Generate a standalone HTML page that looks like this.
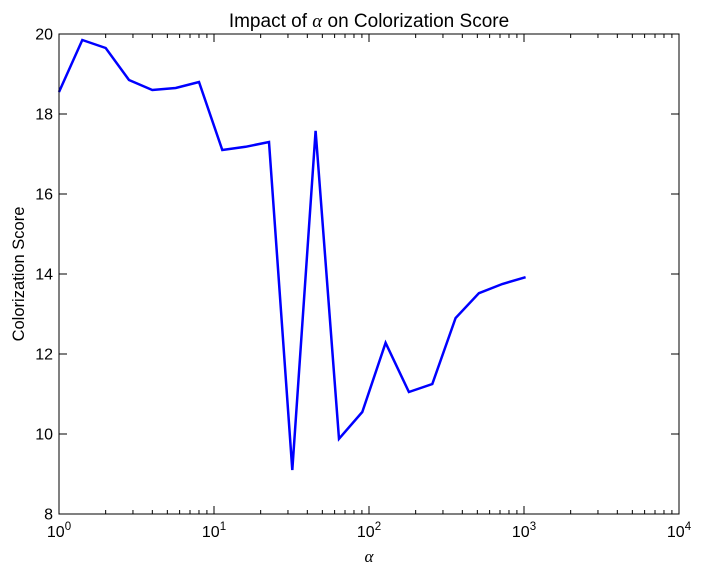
<!DOCTYPE html>
<html><head><meta charset="utf-8"><style>
body{margin:0;background:#fff;}
svg{display:block;font-family:"Liberation Sans",sans-serif;}
</style></head><body>
<svg id="chart" width="704" height="576" xmlns="http://www.w3.org/2000/svg">
<rect x="0" y="0" width="704" height="576" fill="#fff"/>
<g id="grid"></g>
<text x="369" y="27" font-size="19" text-anchor="middle">Impact of <tspan font-family="Liberation Serif" font-style="italic">α</tspan> on Colorization Score</text>
<text x="369" y="562" font-size="17" text-anchor="middle" font-family="Liberation Serif" font-style="italic">α</text>
<text x="24" y="274" font-size="16.5" text-anchor="middle" transform="rotate(-90 24 274)">Colorization Score</text>
</svg>
<script>
const alphas=[1,1.414,2,2.828,4,5.657,8,11.31,16,22.63,32,45.25,64,90.51,128,181,256,362,512,724,1024];
const scores=[18.55,19.85,19.65,18.85,18.6,18.65,18.8,17.1,17.18,17.3,9.1,17.58,9.88,10.55,12.28,11.05,11.25,12.9,13.52,13.75,13.92];
const yTicks=[8,10,12,14,16,18,20];
const xDecades=[0,1,2,3,4];
const L=59,R=679,T=34,B=514;
const NS="http://www.w3.org/2000/svg";
const xs=v=>L+(Math.log10(v)-0)/4*(R-L);
const ys=v=>B-(v-8)/12*(B-T);
const svg=document.getElementById('chart');
const g=document.getElementById('grid');
function mk(tag,at,parent){const e=document.createElementNS(NS,tag);for(const k in at)e.setAttribute(k,at[k]);(parent||g).appendChild(e);return e;}
yTicks.forEach(t=>{const y=ys(t);
 const a=mk('line',{x1:L,x2:L+8,y1:y,y2:y,stroke:'#000'});
 
 
 const b=mk('line',{x1:R,x2:R-8,y1:y,y2:y,stroke:'#000'});
 
 
 const tx=mk('text',{x:L-6,y:y+5.5,'font-size':16,'text-anchor':'end'});tx.textContent=t;
 
 
});
xDecades.forEach(d=>{const x=xs(Math.pow(10,d));
 const a=mk('line',{x1:x,x2:x,y1:B,y2:B-8,stroke:'#000'});
 
 
 const b=mk('line',{x1:x,x2:x,y1:T,y2:T+8,stroke:'#000'});
 
 
 const tx=mk('text',{x:x,y:B+23,'font-size':16,'text-anchor':'middle'});
 tx.innerHTML='10<tspan dy="-7" font-size="11.5">'+d+'</tspan>';
 
 
 if(d<4){for(let m=2;m<10;m++){const xm=xs(m*Math.pow(10,d));
  const c=mk('line',{x1:xm,x2:xm,y1:B,y2:B-4,stroke:'#000'});
  
  
  const e=mk('line',{x1:xm,x2:xm,y1:T,y2:T+4,stroke:'#000'});
  
  
 }}
});
const pts=alphas.map((a,i)=>xs(a).toFixed(1)+','+ys(scores[i]).toFixed(1)).join(' ');
const line=mk('polyline',{points:pts,fill:'none',stroke:'#0000ff','stroke-width':2.5,'stroke-linejoin':'miter'});


const fr=mk('rect',{x:L,y:T,width:R-L,height:B-T,fill:'none',stroke:'#000','stroke-width':1});


</script>
</body></html>
